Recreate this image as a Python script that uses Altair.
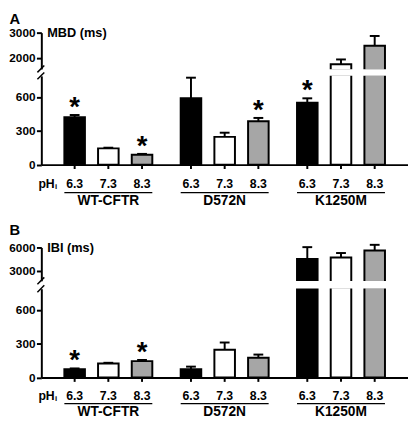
import altair as alt
import pandas as pd

groups = ["WT-CFTR", "D572N", "K1250M"]
ph_levels = ["6.3", "7.3", "8.3"]

mbd_mean = [420, 144, 87, 588, 246, 385, 550, 1745, 2483]
mbd_err = [20, 6, 8, 183, 37, 29, 38, 190, 385]
mbd_sig = [True, False, True, False, False, True, True, False, False]

ibi_mean = [72, 124, 145, 72, 246, 174, 4500, 4700, 5600]
ibi_err = [8, 6, 10, 24, 64, 29, 1540, 580, 740]
ibi_sig = [True, False, True, False, False, False, False, False, False]

fills = ["#000000", "#ffffff", "#a6a6a6"]

FONT = "Liberation Sans"
W = 374
BREAK_LOW = 800
BREAK_HIGH = 1500


def frame(means, errs, sig):
    rows = []
    i = 0
    for g in groups:
        for p in ph_levels:
            rows.append(dict(group=g, ph=p, mean=means[i], top=means[i] + errs[i], sig=sig[i]))
            i += 1
    return pd.DataFrame(rows)


x_enc = alt.X("group:N", sort=groups,
              scale=alt.Scale(paddingInner=0.244, paddingOuter=0.198),
              axis=alt.Axis(title=None, labels=False, ticks=False, grid=False,
                            domainColor="black", domainWidth=2))
xo_enc = alt.XOffset("ph:N", sort=ph_levels,
                     scale=alt.Scale(paddingInner=0.39, paddingOuter=0))
fill_enc = alt.Color("ph:N", sort=ph_levels,
                     scale=alt.Scale(domain=ph_levels, range=fills), legend=None)


def yaxis(values):
    return alt.Axis(values=values, orient="left", title=None, grid=False, format="d",
                    domainColor="black", domainWidth=2, tickColor="black",
                    tickWidth=2, tickSize=5, labelPadding=1.5, labelFont=FONT,
                    labelFontSize=12, labelFontWeight="bold", labelColor="black")


def panel(df, letter, ytitle, up_max, up_ticks, up_px, H, offs, letter_y):
    low_top = H - BREAK_LOW * 69 / 600
    base = alt.Chart(df)

    # lower segment
    ylow_scale = alt.Scale(domain=[0, BREAK_LOW], range=[H, low_top], nice=False, zero=True)
    low_bars = base.transform_calculate(
        lowv=f"min(datum.mean, {BREAK_LOW})"
    ).mark_bar(stroke="black", strokeWidth=2).encode(
        x=x_enc, xOffset=xo_enc,
        y=alt.Y("lowv:Q", scale=ylow_scale, axis=yaxis([0, 300, 600])),
        y2=alt.datum(0), fill=fill_enc)
    low_err = base.transform_filter(f"datum.mean < {BREAK_LOW}").mark_rule(
        color="black", strokeWidth=2).encode(
        x=x_enc, xOffset=xo_enc, y="mean:Q", y2="top:Q")
    low_cap = base.transform_filter(f"datum.mean < {BREAK_LOW}").mark_tick(
        color="black", size=10, thickness=2, opacity=1).encode(
        x=x_enc, xOffset=xo_enc, y="top:Q")
    stars = base.transform_filter("datum.sig").mark_text(
        text="*", font=FONT, fontSize=28, fontWeight="bold", color="black",
        baseline="alphabetic", dy=1).encode(
        x=x_enc, xOffset=xo_enc, y="top:Q")
    lower = alt.layer(low_err, low_bars, low_cap, stars)

    # upper segment
    yup_scale = alt.Scale(domain=[BREAK_HIGH, up_max], range=[up_px, 0], nice=False, zero=False)
    up_base = base.transform_filter(f"datum.mean > {BREAK_HIGH}")
    up_bars = up_base.mark_bar(stroke="black", strokeWidth=2).encode(
        x=x_enc, xOffset=xo_enc,
        y=alt.Y("mean:Q", scale=yup_scale, axis=yaxis(up_ticks)),
        y2=alt.datum(BREAK_HIGH), fill=fill_enc)
    up_err = up_base.mark_rule(color="black", strokeWidth=2).encode(
        x=x_enc, xOffset=xo_enc, y="mean:Q", y2="top:Q")
    up_cap = up_base.mark_tick(color="black", size=10, thickness=2, opacity=1).encode(
        x=x_enc, xOffset=xo_enc, y="top:Q")
    upper = alt.layer(up_err, up_bars, up_cap)

    one = alt.Chart(pd.DataFrame({"k": [0]}))
    band = one.mark_rect(fill="white").encode(
        x=alt.value(2), x2=alt.value(W), y=alt.value(up_px - 1.3), y2=alt.value(low_top + 1.3))
    slash1 = one.mark_rule(color="black", strokeWidth=1.5).encode(
        x=alt.value(-4), x2=alt.value(3), y=alt.value(up_px + 2), y2=alt.value(up_px - 5))
    slash2 = one.mark_rule(color="black", strokeWidth=1.5).encode(
        x=alt.value(-4), x2=alt.value(3), y=alt.value(low_top + 5), y2=alt.value(low_top - 2))
    gap_fill = one.mark_rect(fill="white").encode(
        x=alt.value(-2), x2=alt.value(2), y=alt.value(up_px - 1), y2=alt.value(low_top + 2))

    ticks = base.mark_rule(color="black", strokeWidth=2).encode(
        x=x_enc, xOffset=xo_enc, y=alt.value(H), y2=alt.value(H + 4.5))
    ph_text = base.mark_text(font=FONT, fontSize=12.5, fontWeight="bold", color="black",
                             baseline="middle").encode(
        x=x_enc, xOffset=xo_enc, y=alt.value(H + offs[0]), text="ph:N")
    gdf = alt.Chart(pd.DataFrame({"group": groups}))
    underline = gdf.mark_bar(color="black").encode(
        x=x_enc, y=alt.value(H + offs[1]), y2=alt.value(H + offs[1] + 1.3))
    g_text = gdf.mark_text(font=FONT, fontSize=14, fontWeight="bold", color="black",
                           baseline="middle").encode(
        x=x_enc, y=alt.value(H + offs[2]), text="group:N")
    ph_lab = one.mark_text(text="pH", font=FONT, fontSize=12.5, fontWeight="bold", color="black",
                           align="left", baseline="middle").encode(
        x=alt.value(-3), y=alt.value(H + offs[0]))
    ph_sub = one.mark_text(text="i", font=FONT, fontSize=8, fontWeight="bold", color="black",
                           align="left", baseline="middle").encode(
        x=alt.value(14), y=alt.value(H + offs[0] + 3))
    letter_t = one.mark_text(text=letter, font=FONT, fontSize=15, fontWeight="bold", color="black",
                             align="left", baseline="top").encode(
        x=alt.value(-32.5), y=alt.value(letter_y))
    title_t = one.mark_text(text=ytitle, font=FONT, fontSize=13, fontWeight="bold", color="black",
                            align="left", baseline="middle").encode(
        x=alt.value(6), y=alt.value(0.5))

    return alt.layer(upper, lower, band, gap_fill, slash1, slash2, ticks, ph_text, underline,
                     g_text, ph_lab, ph_sub, letter_t, title_t).resolve_scale(
        y="independent").properties(width=W, height=H)


dfA = frame(mbd_mean, mbd_err, mbd_sig)
dfB = frame(ibi_mean, ibi_err, ibi_sig)

pA = panel(dfA, "A", "MBD (ms)", 3000, [2000, 3000], 38.5, 134.6, (20, 28, 37.5), -21)
pB = panel(dfB, "B", "IBI (ms)", 6000, [3000, 6000], 35.5, 132.6, (19, 26, 35), -24.4)

chart = alt.vconcat(pA, pB, spacing=84.1, bounds="flush").properties(
    padding=0, background="white"
).configure_view(stroke=None)

chart.save("out.html", embed_options={"renderer": "svg", "actions": False})
